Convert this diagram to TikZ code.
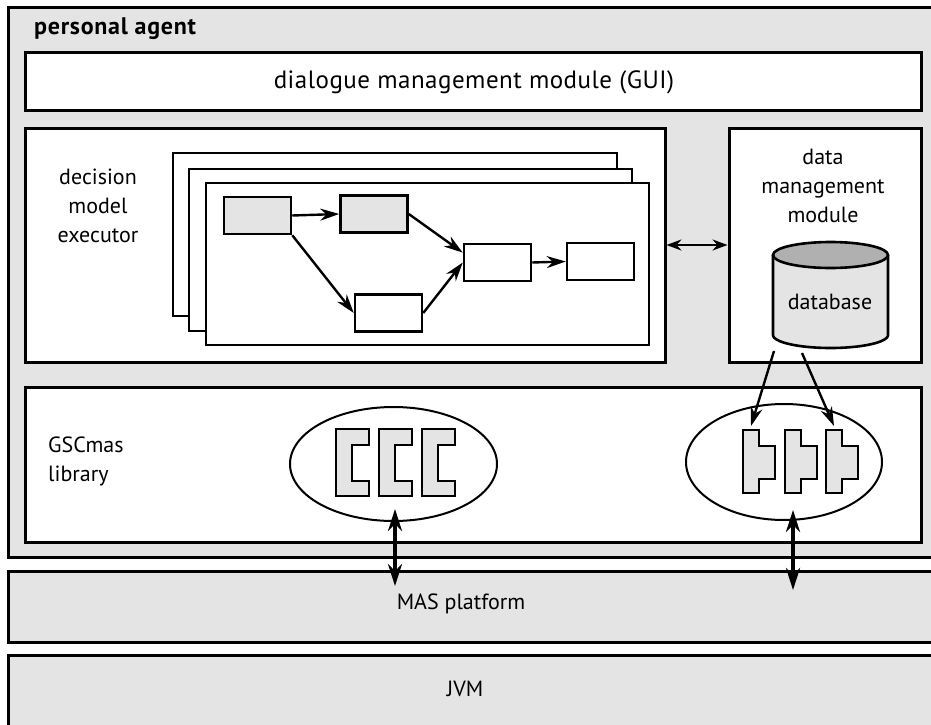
\documentclass[tikz,border=0pt]{standalone}
\usepackage{fontspec}
\setmainfont{PT Sans}
\usetikzlibrary{arrows.meta,shapes.geometric,fit,calc}
\definecolor{panel}{HTML}{E4E4E4}
\definecolor{dbtop}{HTML}{B0B0B0}
\tikzset{
  layer/.style={draw, line width=3pt, fill=panel, inner sep=0pt, rectangle},
  module/.style={draw, line width=3pt, fill=white, inner sep=0pt, rectangle},
  sheet/.style={draw, line width=2.6pt, fill=white, inner sep=0pt, rectangle},
  flowbox/.style={draw, line width=2.5pt, inner sep=0pt, rectangle,
                  minimum width=67pt, minimum height=37pt},
  label/.style={font=\fontsize{22}{29}\selectfont, inner sep=0pt},
  flow/.style={line width=2.4pt, -{Stealth[length=19pt,width=12pt]}},
  link/.style={line width=2.2pt, {Stealth[length=15pt,width=11pt]}-{Stealth[length=15pt,width=11pt]}},
  bus/.style={line width=4pt, {Stealth[length=22pt,width=14pt]}-{Stealth[length=22pt,width=14pt]}},
  part/.style={draw, line width=2.6pt, fill=panel, line join=miter},
}
\begin{document}
\begin{tikzpicture}[x=1pt,y=-1pt]
\useasboundingbox (0,0) rectangle (931,725);
\clip (0,0) rectangle (931,725);

% layers
\node[layer, fit={(8,8) (945,557)}] (agent) {};
\node[layer, fit={(8,571) (945,642)}] (mas) {};
\node[layer, fit={(8,655) (945,735)}] (jvm) {};

\node[label, font=\fontsize{24}{29}\selectfont\bfseries\addfontfeature{LetterSpace=3}, anchor=west] (agentlbl) at (34,29) {personal agent};
\node[label] (maslbl) at (461,604) {MAS platform};
\node[label] (jvmlbl) at (465,689) {JVM};

% modules inside the agent
\node[module, fit={(25,53) (921,110)}] (dlg) {};
\node[label, font=\fontsize{25}{29}\selectfont\addfontfeature{LetterSpace=2}] (dlglbl) at (474,82) {dialogue management module (GUI)};
\node[module, fit={(25,128) (665,362)}] (dec) {};
\node[module, fit={(729,128) (921,362)}] (data) {};
\node[module, fit={(25,387) (921,542)}] (lib) {};

\node[label, align=center] (declbl) at (98,206) {decision\\model\\executor};
\node[label, align=center] (datalbl) at (823,186) {data\\management\\module};
\node[label, align=left, anchor=west] (liblbl) at (48,461) {GSCmas\\library};

% stacked decision models
\node[sheet, fit={(173,153) (617,316)}] (s3) {};
\node[sheet, fit={(189,169) (632,331)}] (s2) {};
\node[sheet, fit={(206,183) (649,345)}] (s1) {};

\node[flowbox, fill=panel] (fa) at (257.5,215.5) {};
\node[flowbox, fill=panel] (fb) at (374,214) {};
\node[flowbox, fill=white] (fc) at (388.5,313) {};
\node[flowbox, fill=white] (fd) at (497.5,262.5) {};
\node[flowbox, fill=white] (fe) at (600.5,261.5) {};

\draw[flow] (fa.east) -- (fb.west);
\draw[flow] (fa.south east) -- (fc.west);
\draw[flow] (fb.east) -- ($(fd.north west)!0.25!(fd.south west)$);
\draw[flow] (fc.east) -- (fd.west);
\draw[flow] (fd.east) -- (fe.west);

\draw[link] (dec.east) -- (data.west);

% database cylinder
\fill[panel] (773,255) -- (773,335)
  -- plot[domain=180:360, samples=50] ({830.5+57.5*cos(\x)},{335-13*sin(\x)})
  -- (888,255) -- cycle;
\draw[line width=2.6pt] (773,255) -- (773,335)
  -- plot[domain=180:360, samples=50] ({830.5+57.5*cos(\x)},{335-13*sin(\x)})
  -- (888,255);
\draw[line width=2.6pt, fill=dbtop] (830.5,255) ellipse [x radius=57.5, y radius=13];
\node[label] (db) at (830,302) {database};

% component groups of the library
\node[ellipse, draw, line width=2pt, minimum width=207pt, minimum height=114pt, inner sep=0pt] (lel) at (393.5,464) {};
\node[ellipse, draw, line width=2pt, minimum width=196pt, minimum height=116pt, inner sep=0pt] (rel) at (784,462) {};

\foreach \d in {0,43,86}{
  \draw[part] (336+\d,429) -- (369+\d,429) -- (369+\d,445) -- (352+\d,445)
    -- (352+\d,481) -- (369+\d,481) -- (369+\d,496) -- (336+\d,496) -- cycle;
}
\foreach \d in {0,42,83}{
  \draw[part] (743+\d,430) -- (759+\d,430) -- (759+\d,446) -- (775+\d,446)
    -- (775+\d,479) -- (759+\d,479) -- (759+\d,493) -- (743+\d,493) -- cycle;
}

% database to library components
\coordinate (dbl) at (774,351);
\coordinate (dbr) at (802,353);
\coordinate (rpl) at (751,426);
\coordinate (rpr) at (834,426);
\draw[flow] (dbl) -- (rpl);
\draw[flow] (dbr) -- (rpr);

% library to MAS platform
\coordinate (lup) at (395,509);
\coordinate (ldn) at (395,586);
\coordinate (rup) at (793,510);
\coordinate (rdn) at (793,590);
\draw[bus] (lup) -- (ldn);
\draw[bus] (rup) -- (rdn);
\end{tikzpicture}
\end{document}
